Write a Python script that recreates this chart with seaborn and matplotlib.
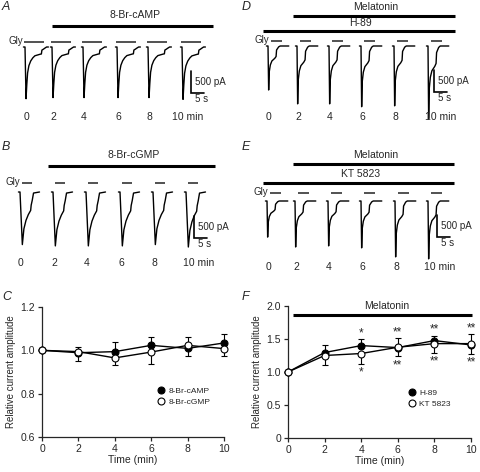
import numpy as np
import matplotlib
matplotlib.use("Agg")
import matplotlib.pyplot as plt
import seaborn as sns
from matplotlib.lines import Line2D

# ==============================
# DATA
# ==============================
time_min = [0, 2, 4, 6, 8, 10]
time_labels = ["0", "2", "4", "6", "8", "10 min"]

# panel C (relative amplitude, error drawn one way only as in the figure)
camp_mean = [1.0, 0.989, 0.994, 1.023, 1.009, 1.034]
camp_up = [0, 0, 0.043, 0.037, 0, 0.043]
camp_dn = [0, 0.040, 0, 0, 0.034, 0]
cgmp_mean = [1.0, 0.994, 0.965, 0.992, 1.023, 1.008]
cgmp_up = [0, 0.023, 0, 0, 0.037, 0]
cgmp_dn = [0, 0, 0.032, 0.055, 0, 0.033]

# panel F
h89_mean = [1.0, 1.295, 1.40, 1.37, 1.476, 1.41]
h89_up = [0, 0.115, 0.10, 0.14, 0.075, 0.16]
kt_mean = [1.0, 1.25, 1.28, 1.375, 1.43, 1.43]
kt_dn = [0, 0.15, 0.16, 0.14, 0.135, 0.155]
stars_h89 = ["", "", "*", "**", "**", "**"]
stars_kt = ["", "", "*", "**", "**", "**"]
melatonin_on, melatonin_off = 0.3, 10.05

# example traces: peak amplitude (pA) of each Gly response
amp_A = [1175, 1150, 1150, 1150, 1150, 1190]
amp_B = [1195, 1225, 1225, 1225, 1195, 1250]
amp_D = [1000, 1315, 1315, 1380, 1360, 1655]
amp_E = [820, 1045, 1020, 1065, 1270, 1315]

# trace shapes: time (s) and fraction of peak
shape_A_t = [-0.6, 0, 0.4, 0.7, 1.0, 1.5, 2.2, 3.0, 3.8, 5.8, 6.3, 6.5, 7.0, 7.7, 8.3, 9.0]
shape_A_i = [0, 0, 1.0, 0.72, 0.5, 0.36, 0.27, 0.21, 0.17, 0.14, 0.135, 0.06, 0.045, 0.02, 0, 0]
shape_B_t = [-0.6, 0, 0.9, 1.5, 2.3, 3.2, 4.1, 4.3, 4.7, 5.2, 7.5]
shape_B_i = [0, 0, 1.0, 0.7, 0.54, 0.43, 0.35, 0.25, 0.16, 0.02, 0]
shape_D_t = [-0.6, 0, 0.25, 0.5, 0.9, 1.5, 2.6, 3.1, 3.3, 4.1, 4.7, 8.0]
shape_D_i = [0, 0, 1.0, 0.58, 0.43, 0.34, 0.28, 0.24, 0.09, 0.02, 0, 0]

# ==============================
# LAYOUT
# ==============================
W, H = 480, 472
PX_S = 2.6          # px per second in the trace panels
PX_PA = 22 / 500    # px per pA

sns.set_style("ticks")
plt.rcParams["font.family"] = ["Liberation Sans", "DejaVu Sans"]
plt.rcParams["axes.linewidth"] = 0.9

fig = plt.figure(figsize=(W / 100, H / 100), dpi=100)


def trace_ax(x0, y0, w, h, base):
    ax = fig.add_axes([x0 / W, 1 - (y0 + h) / H, w / W, h / H])
    ax.set_xlim(0, w / PX_S)
    ax.set_ylim(-(y0 + h - base) / PX_PA, (base - y0) / PX_PA)
    ax.axis("off")

    def px(x, y):
        return (x - x0) / PX_S, (base - y) / PX_PA
    return ax, px


def draw_panel(x0, y0, base, letter, onsets, amps, st, si, gly_y, gly_off, gly_len,
               drugs, lab_y, last_off, sb):
    ax, px = trace_ax(x0, y0, 240, 140, base)
    fig.text((x0 + 2) / W, 1 - (y0 + 1) / H, letter, style="italic", fontsize=9,
             va="top", ha="left")
    t_shape = np.array(st)
    i_shape = np.array(si)
    gy = px(0, gly_y)[1]
    for k, (on, a) in enumerate(zip(onsets, amps)):
        t0 = px(on, 0)[0]
        ax.plot(t0 + t_shape, -a * i_shape, color="black", lw=1.0)
        g0 = t0 + gly_off
        ax.plot([g0, g0 + gly_len], [gy, gy], color="#333333", lw=1.2,
                solid_capstyle="butt")
        if k < len(onsets) - 1:
            ax.text(*px(on + 1, lab_y), time_labels[k], ha="center", va="center",
                    fontsize=7.5)
        else:
            ax.text(*px(on + last_off, lab_y), time_labels[k], ha="left", va="center",
                    fontsize=7.5)
    g0 = px(onsets[0], 0)[0] + gly_off
    ax.text(g0 - 0.4, gy + 1 / PX_PA, "Gly", ha="right", va="center", fontsize=7)
    # drug bars
    for name, xa, xb, yb, yt in drugs:
        (a, yy), (b, _) = px(xa, yb), px(xb, yb)
        ax.plot([a, b], [yy, yy], color="black", lw=2.2, solid_capstyle="butt")
        ax.text(*px((xa + xb) / 2 + 2, yt), name, ha="center", va="center", fontsize=7.5)
    # scale bar 500 pA / 5 s
    sx, sy_top, sy_bot = sb
    bx, by = px(sx, sy_bot)
    ax.plot([bx, bx, bx + 5], [by + 500, by, by], color="black", lw=1.2,
            solid_joinstyle="miter")
    ax.text(*px(sx + 4, sy_bot - 11), "500 pA", ha="left", va="center", fontsize=7)
    ax.text(*px(sx + 4, sy_bot + 6), "5 s", ha="left", va="center", fontsize=7)


# A
draw_panel(0, 0, 47, "A", [25, 52, 83, 117, 148, 182], amp_A, shape_A_t, shape_A_i,
           41.5, -0.3, 7.6, [("8-Br-cAMP", 52, 213, 26, 15)], 117, -10, (191, 73, 93))
# B
draw_panel(0, 140, 192, "B", [20, 53, 86, 120, 153, 186], amp_B, shape_B_t, shape_B_i,
           183, 0.6, 4.0, [("8-Br-cGMP", 48, 215, 166, 155)], 263, -3, (194, 216, 238))
# D
draw_panel(240, 0, 46, "D", [268, 297, 329, 361, 394, 428], amp_D, shape_D_t, shape_D_i,
           41, 1.0, 4.2, [("Melatonin", 293, 455, 16, 7), ("H-89", 263, 455, 31, 23)],
           117, -3, (434, 70, 92))
# E
draw_panel(240, 140, 201, "E", [267, 295, 328, 361, 395, 428], amp_E, shape_D_t, shape_D_i,
           193, 1.0, 4.2, [("Melatonin", 293, 454, 164, 155), ("KT 5823", 263, 454, 183, 174)],
           267, -4, (437, 218, 237))


# ==============================
# SUMMARY PLOTS
# ==============================
def style_ax(ax):
    sns.despine(ax=ax)
    ax.set_xlim(0, 10)
    ax.set_xticks(time_min)
    ax.tick_params(direction="out", length=3, width=0.9, labelsize=7.5, pad=2)
    ax.set_xlabel("Time (min)", fontsize=7.5, labelpad=1)
    ax.set_ylabel("Relative current amplitude", fontsize=7, labelpad=3)


def series(ax, mean, dn, up, face):
    ax.errorbar(time_min, mean, yerr=[dn, up], fmt="none", ecolor="black",
                elinewidth=0.8, capsize=2, capthick=0.8, zorder=2, clip_on=False)
    sns.lineplot(x=time_min, y=mean, ax=ax, color="black", lw=1.0, marker="o",
                 markersize=5, markerfacecolor=face, markeredgecolor="black",
                 markeredgewidth=0.8, zorder=3, clip_on=False)


fig.text(2 / W, 1 - 291 / H, "C", style="italic", fontsize=9, va="top")
fig.text(242 / W, 1 - 291 / H, "F", style="italic", fontsize=9, va="top")

axC = fig.add_axes([42 / W, 1 - 437 / H, 182 / W, 130 / H])
series(axC, camp_mean, camp_dn, camp_up, "black")
series(axC, cgmp_mean, cgmp_dn, cgmp_up, "white")
axC.set_ylim(0.6, 1.2)
axC.set_yticks([0.6, 0.8, 1.0, 1.2])
axC.set_yticklabels(["0.6", "0.8", "1.0", "1.2"])
style_ax(axC)
hC = [Line2D([], [], ls="none", marker="o", ms=5, color="black", mfc=f, mew=0.8)
      for f in ["black", "white"]]
axC.legend(hC, ["8-Br-cAMP", "8-Br-cGMP"], loc="center left",
           bbox_to_anchor=(0.61, 0.31), frameon=False, fontsize=6, handlelength=1,
           handletextpad=0.4, labelspacing=0.35, borderpad=0)

axF = fig.add_axes([288 / W, 1 - 438 / H, 183 / W, 132 / H])
zeros = [0] * len(time_min)
series(axF, h89_mean, zeros, h89_up, "black")
series(axF, kt_mean, kt_dn, zeros, "white")
axF.set_ylim(0, 2.0)
axF.set_yticks([0, 0.5, 1.0, 1.5, 2.0])
axF.set_yticklabels(["0", "0.5", "1.0", "1.5", "2.0"])
style_ax(axF)
for x, m, u, s in zip(time_min, h89_mean, h89_up, stars_h89):
    if s:
        axF.annotate(s, (x, m + u), xytext=(0, 0), textcoords="offset points",
                     ha="center", va="bottom", fontsize=8.5)
for x, m, d, s in zip(time_min, kt_mean, kt_dn, stars_kt):
    if s:
        axF.annotate(s, (x, m - d), xytext=(0, -2), textcoords="offset points",
                     ha="center", va="top", fontsize=8.5)
axF.plot([melatonin_on, melatonin_off], [1.86, 1.86], color="black", lw=2.2,
         clip_on=False, solid_capstyle="butt")
axF.text(5.4, 2.0, "Melatonin", ha="center", va="center", fontsize=7.5)
hF = [Line2D([], [], ls="none", marker="o", ms=5, color="black", mfc=f, mew=0.8)
      for f in ["black", "white"]]
axF.legend(hF, ["H-89", "KT 5823"], loc="center left",
           bbox_to_anchor=(0.63, 0.30), frameon=False, fontsize=6, handlelength=1,
           handletextpad=0.4, labelspacing=0.35, borderpad=0)

fig.savefig("out.png", dpi=100)
